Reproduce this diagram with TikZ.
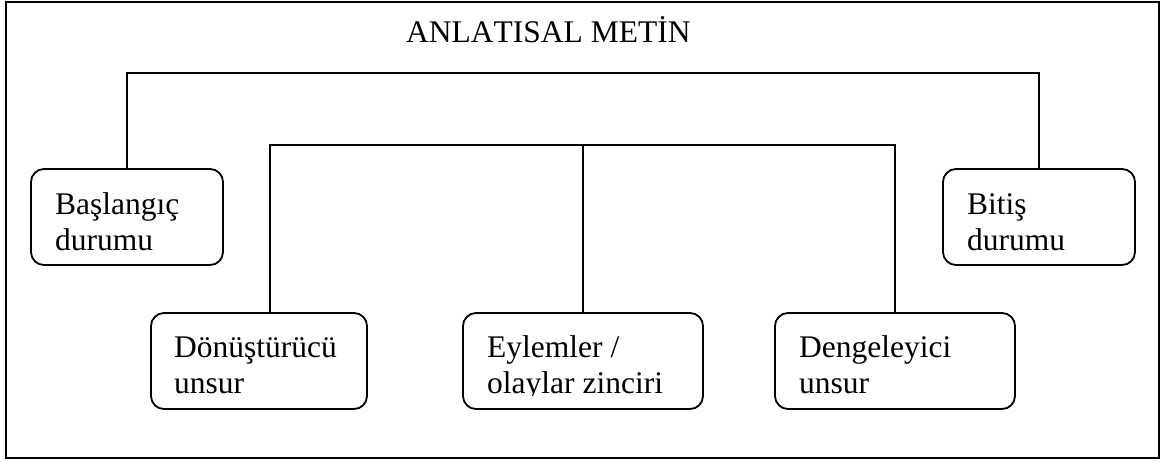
\documentclass[tikz,border=0pt]{standalone}
\usepackage{fontspec}
\setmainfont{Liberation Serif}[Kerning=Off]
\begin{document}
\begin{tikzpicture}[x=1pt,y=-1pt,
  box/.style={draw, line width=1.8pt, rounded corners=13pt, minimum width=#1,
              minimum height=96pt, inner sep=0pt},
  lbl/.style={anchor=base west, inner sep=0pt, align=left,
              font=\fontsize{31.5}{36}\selectfont},
  link/.style={line width=1.7pt}]
\useasboundingbox (0,0) rectangle (1166,461);

% outer frame and heading
\node[draw, line width=2.2pt, minimum width=1153pt, minimum height=456pt,
      inner sep=0pt] (frame) at (582.5,230) {};
\node[lbl] (title) at (406,42) {ANLATISAL METİN};

% the five stages
\node[box=192pt] (b1) at (127,217) {};
\node[box=192pt] (b5) at (1039,217) {};
\node[box=216pt] (b2) at (259,361) {};
\node[box=240pt] (b3) at (583,361) {};
\node[box=240pt] (b4) at (895,361) {};

% labels: the base anchor sits on the last line
\node[lbl] (t1) at (55,250) {Başlangıç\\durumu};
\node[lbl] (t5) at (967,250) {Bitiş\\durumu};
\node[lbl] (t2) at (174,393) {Dönüştürücü\\unsur};
\begin{scope}
  \clip (463,313) rectangle (703,395);
  \node[lbl] (t3) at (487,393) {Eylemler /\\olaylar zinciri};
\end{scope}
\node[lbl] (t4) at (799,393) {Dengeleyici\\unsur};

% connectors
\coordinate (outerbar) at (583,73);
\coordinate (innerbar) at (583,145);
\draw[link] (b1.north) |- (outerbar) -| (b5.north);
\draw[link] ([xshift=11pt]b2.north) |- (innerbar) -| (b4.north);
\draw[link] (b3.north) -- (b3.north |- innerbar);
\end{tikzpicture}
\end{document}
